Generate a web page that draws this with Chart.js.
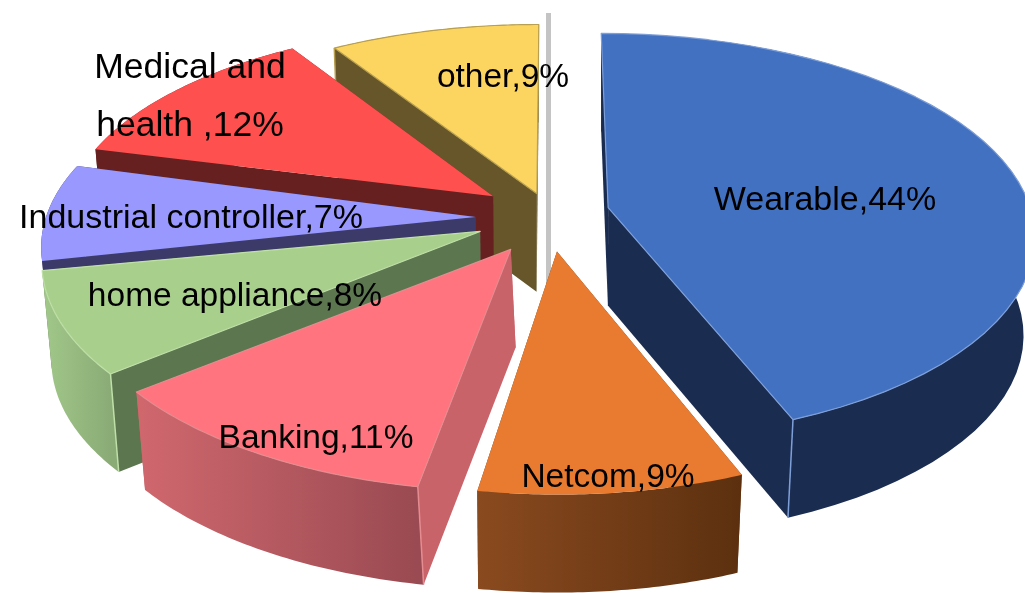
<!DOCTYPE html>
<html><head><meta charset="utf-8">
<style>html,body{margin:0;padding:0;background:#fff}#w{width:1025px;height:593px;position:relative;overflow:hidden}canvas{filter:blur(0.6px)}</style>
<script src="https://cdn.jsdelivr.net/npm/chart.js@4"></script>
</head><body><div id="w"><canvas id="c"></canvas></div>
<script>
// data
const categories = ["Wearable","Netcom","Banking","home appliance","Industrial controller","Medical and health ","other"];
const shares = [44,9,11,8,7,12,9];
// style
const topColors  = ["#4271C2","#E97B30","#FF747E","#A9CF8C","#9898FF","#FF5050","#FCD561"];
const wallColors = ["#1A2C50","#6E3A14","#C9636A","#5C7750","#3C3A68","#662020","#66562A"];
const rimLeft    = ["#1A2C50","#8A4A1F","#D0686E","#A2C88A","#3C3A68","#662020","#66562A"];
const rimRight   = ["#1A2C50","#5C300F","#9A4A52","#8AAB76","#3C3A68","#662020","#66562A"];
const edgeColors = ["#7E9FD8","rgba(0,0,0,0)","#E58C90","#BFE0A8","rgba(0,0,0,0)","rgba(0,0,0,0)","#B8A050"];
const paintOrder = [6,5,4,3,2,1,0];
const labelLines = [["Wearable,44%"],["Netcom,9%"],["Banking,11%"],["home appliance,8%"],["Industrial controller,7%"],["Medical and","health ,12%"],["other,9%"]];
const labelAt = [[825,201],[608,478],[316,439],[235,297],[191,219],[190,68],[503,78]];
const LABEL_PX = [34,33.5,33.5,33.5,34,35.5,33.5];
const LINE_GAP = 58;
// view
const VIEW = {cx:545,cy:216,ax:430,ky:200,px:0.13,py:0.14,depth:98,offset:0.145};
const sliceShift = [[3,-3],[6,6],[-2,8],[-8,3],[-7,2],[-2,-3],[9,5]];
const sliceXScale = [0.985,1,1,1,1,1,1];
const lowSqueeze = [[0.026,600],[0.02,520],[0.01,1000],[0.02,520],[0.02,520],[0.02,520],[0.02,520]];
const angleTrimDeg = [[0,0],[0,-1.6],[-0.7,0.8],[0,0],[-1.5,1],[0,0],[0,0]];

function project(u,v,low,i){
  const sh=sliceShift[i], q=lowSqueeze[i];
  let x=VIEW.cx+sliceXScale[i]*VIEW.ax*u/(1+VIEW.px*v)+sh[0], y=VIEW.cy-VIEW.ky*v/(1+VIEW.py*v)+sh[1];
  if(low){x+=(q[1]-x)*q[0];y+=VIEW.depth;}
  return [x,y];
}
function slicePts(arc,low,i){
  const tr=angleTrimDeg[i];
  const R=arc.outerRadius, o=(arc.options.offset||0)/R;
  const mid=(arc.startAngle+arc.endAngle)/2;
  const ox=o*Math.cos(mid), oy=-o*Math.sin(mid);
  const a0=arc.startAngle+tr[0]*Math.PI/180, a1=arc.endAngle+tr[1]*Math.PI/180;
  const n=48, rim=[];
  for(let k=0;k<=n;k++){
    const a=a0+(a1-a0)*k/n;
    rim.push(project(ox+Math.cos(a),oy-Math.sin(a),low,i));
  }
  return {apex:project(ox,oy,low,i),rim};
}
function poly(ctx,pts,fill,stroke,lw){
  ctx.beginPath();pts.forEach((p,i)=>i?ctx.lineTo(p[0],p[1]):ctx.moveTo(p[0],p[1]));ctx.closePath();
  ctx.fillStyle=fill;ctx.fill();
  if(stroke){ctx.strokeStyle=stroke;ctx.lineWidth=lw||1;ctx.stroke();}
}
const pie3d={
  id:'pie3d',
  beforeDatasetDraw(chart){
    const ctx=chart.ctx, arcs=chart.getDatasetMeta(0).data;
    ctx.save();
    ctx.lineJoin='round';
    ctx.fillStyle='#C4C4C4';ctx.fillRect(546,13,5,272);
    paintOrder.forEach(i=>{
      const T=slicePts(arcs[i],false,i),B=slicePts(arcs[i],true,i);
      const rt=T.rim,rb=B.rim,L=rt.length-1;
      poly(ctx,[T.apex,rt[0],rb[0],B.apex],wallColors[i]);
      poly(ctx,[T.apex,rt[L],rb[L],B.apex],wallColors[i]);
      const xs=rt.map(p=>p[0]);const g=ctx.createLinearGradient(Math.min(...xs),0,Math.max(...xs),0);
      g.addColorStop(0,rimLeft[i]);g.addColorStop(1,rimRight[i]);
      poly(ctx,rt.concat(rb.slice().reverse()),g);
      const front=rt[0][1]>rt[L][1]?[rt[0],rb[0]]:[rt[L],rb[L]];
      ctx.strokeStyle=edgeColors[i];ctx.lineWidth=1.5;
      ctx.beginPath();ctx.moveTo(front[0][0],front[0][1]);ctx.lineTo(front[1][0],front[1][1]);ctx.stroke();
      poly(ctx,[T.apex].concat(rt),topColors[i],edgeColors[i],1.2);
    });
    ctx.restore();
    return false;
  },
  afterDraw(chart){
    const ctx=chart.ctx;
    ctx.save();ctx.fillStyle='#000';ctx.textAlign='center';ctx.textBaseline='middle';
    labelLines.forEach((ls,i)=>{
      ctx.font=LABEL_PX[i]+'px "Liberation Sans"';
      ls.forEach((t,j)=>ctx.fillText(t,labelAt[i][0],labelAt[i][1]+j*LINE_GAP));
    });
    ctx.restore();
  }
};
new Chart(document.getElementById('c'),{
  type:'pie',
  data:{labels:categories,datasets:[{data:shares,backgroundColor:topColors,borderWidth:0,offset:30}]},
  options:{responsive:true,maintainAspectRatio:false,animation:false,
    layout:{padding:0},
    plugins:{legend:{display:false},tooltip:{enabled:false}}},
  plugins:[{id:'off',beforeDatasetsDraw(chart){
    const arcs=chart.getDatasetMeta(0).data;
    arcs.forEach(a=>{a.options.offset=VIEW.offset*a.outerRadius;});
  }},pie3d]
});
</script></body></html>
